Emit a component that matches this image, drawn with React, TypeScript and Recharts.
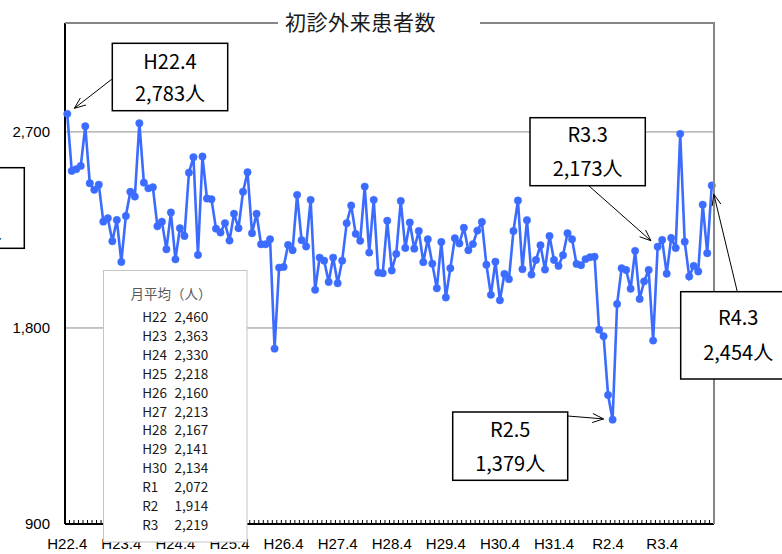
import React from 'react';
import { LineChart, Line, XAxis, YAxis, CartesianGrid } from 'recharts';

const W = 782;
const H = 554;
const PLOT = { left: 65, top: 23, right: 714, bottom: 524 };
const Y_DOMAIN: [number, number] = [900, 3200];

const chartTitle = '初診外来患者数';
const yearTickLabels = ['H22.4', 'H23.4', 'H24.4', 'H25.4', 'H26.4', 'H27.4', 'H28.4', 'H29.4', 'H30.4', 'H31.4', 'R2.4', 'R3.4'];
const yTicks = [900, 1800, 2700];

// monthly first-visit outpatients, H22.4 .. R4.3
const monthlyPatients = [
  2783, 2521, 2529, 2544, 2726, 2464, 2434, 2458, 2288, 2304, 2198, 2296,
  2103, 2314, 2425, 2403, 2740, 2467, 2441, 2446, 2267, 2288, 2161, 2330,
  2115, 2258, 2222, 2513, 2584, 2135, 2587, 2394, 2391, 2256, 2238, 2281,
  2201, 2324, 2258, 2425, 2515, 2235, 2324, 2184, 2184, 2207, 1705, 2077,
  2080, 2181, 2157, 2411, 2203, 2174, 2388, 1975, 2123, 2109, 2011, 2123,
  2005, 2109, 2281, 2362, 2232, 2200, 2449, 2146, 2388, 2054, 2051, 2292,
  2064, 2140, 2383, 2167, 2284, 2164, 2245, 2102, 2207, 2095, 1982, 2195,
  1940, 2074, 2212, 2188, 2260, 2157, 2185, 2247, 2287, 2090, 1952, 2104,
  1927, 2048, 2024, 2245, 2385, 2070, 2295, 2045, 2112, 2180, 2068, 2222,
  2112, 2085, 2134, 2235, 2207, 2094, 2088, 2116, 2125, 2127, 1792, 1762,
  1492, 1379, 1910, 2074, 2066, 1980, 2154, 1933, 2014, 2066, 1742, 2173,
  2204, 2049, 2213, 2167, 2691, 2196, 2036, 2085, 2059, 2366, 2143, 2454,
];

const legendTitle = '月平均（人）';
const fiscalYears = ['H22', 'H23', 'H24', 'H25', 'H26', 'H27', 'H28', 'H29', 'H30', 'R1', 'R2', 'R3'];
const monthlyAverages = [2460, 2363, 2330, 2218, 2160, 2213, 2167, 2141, 2134, 2072, 1914, 2219];

const annotationPeriods = ['H22.4', 'H23.8', 'R3.3', 'R2.5', 'R4.3'];
const annotationIndices = [0, 16, 131, 121, 143];

// layout of the callout boxes (position only)
const annotationLayout = [
  { x: 112.3, y: 43.3, w: 115.4, h: 67.4, l1: 16.7, l2: 48.7, arrow: [111.7, 79.3] },
  { x: -91, y: 167.7, w: 115.3, h: 80.6, l1: 29, l2: 62.5, arrow: null },
  { x: 530, y: 117.7, w: 115.3, h: 68, l1: 15.5, l2: 49.3, arrow: [588.7, 185.7] },
  { x: 452.7, y: 412, w: 115, h: 68.3, l1: 16.7, l2: 50, arrow: [567.7, 416] },
  { x: 680.7, y: 291.7, w: 115, h: 87.3, l1: 25, l2: 59.3, arrow: [737.3, 291.7] },
];

const data = monthlyPatients.map((value, idx) => ({ idx, value }));
// category boundaries (tick marks between months)
const boundaryTicks = Array.from({ length: monthlyPatients.length + 1 }, (_, i) => i - 0.5);
const STEP = (PLOT.right - PLOT.left) / monthlyPatients.length;

const xOf = (i: number) => PLOT.left + (i + 0.5) * STEP;
const yOf = (v: number) =>
  PLOT.top + ((Y_DOMAIN[1] - v) / (Y_DOMAIN[1] - Y_DOMAIN[0])) * (PLOT.bottom - PLOT.top);

const fmt = (v: number) => v.toLocaleString('en-US');

const BLUE = '#3b6cff';
const JP = '"Noto Sans CJK JP", "Noto Sans", sans-serif';
const LAT = '"Liberation Sans", Arial, sans-serif';

function Arrow({ sx, sy, px, py }: { sx: number; sy: number; px: number; py: number }) {
  const dx = px - sx;
  const dy = py - sy;
  const len = Math.hypot(dx, dy);
  const ux = dx / len;
  const uy = dy / len;
  const tx = px - ux * 9;
  const ty = py - uy * 9;
  const a = (22 * Math.PI) / 180;
  const L = 12;
  const c = Math.cos(a);
  const s = Math.sin(a);
  const w1x = tx - L * (ux * c - uy * s);
  const w1y = ty - L * (ux * s + uy * c);
  const w2x = tx - L * (ux * c + uy * s);
  const w2y = ty - L * (-ux * s + uy * c);
  return (
    <g stroke="#000" strokeWidth={1} fill="none">
      <line x1={sx} y1={sy} x2={tx} y2={ty} />
      <polyline points={`${w1x},${w1y} ${tx},${ty} ${w2x},${w2y}`} />
    </g>
  );
}

function XTick(props: any) {
  const { x, y, payload } = props;
  const v = payload?.value as number;
  const k = (v + 0.5) / 12;
  const label = Number.isInteger(k) ? yearTickLabels[k] : undefined;
  if (!label) return <g />;
  return (
    <text
      x={x + STEP / 2}
      y={y}
      dy="0.71em"
      textAnchor="middle"
      fill="#000"
      fontSize={15}
      fontFamily={LAT}
    >
      {label}
    </text>
  );
}

export default function App() {
  return (
    <div style={{ position: 'absolute', left: 0, top: 0, width: W, height: H, background: '#fff', overflow: 'hidden' }}>
      <LineChart
        width={W}
        height={H}
        data={data}
        margin={{ top: PLOT.top, right: W - PLOT.right, bottom: 0, left: 0 }}
      >
        <CartesianGrid vertical={false} stroke="#8c8c8c" strokeWidth={1} />
        <XAxis
          dataKey="idx"
          type="number"
          domain={[-0.5, monthlyPatients.length - 0.5]}
          ticks={boundaryTicks}
          interval={0}
          tick={XTick}
          tickSize={-4}
          tickMargin={18}
          tickLine={{ stroke: '#000', strokeWidth: 1 }}
          axisLine={{ stroke: '#000', strokeWidth: 2 }}
          height={H - PLOT.bottom}
        />
        <YAxis
          type="number"
          domain={Y_DOMAIN}
          ticks={yTicks}
          interval={0}
          width={PLOT.left}
          tickSize={0}
          tickMargin={15}
          tickLine={false}
          axisLine={{ stroke: '#000', strokeWidth: 2 }}
          tickFormatter={(v: number) => fmt(v)}
          tick={{ fill: '#000', fontSize: 15, fontFamily: LAT }}
        />
        <Line
          dataKey="value"
          stroke={BLUE}
          strokeWidth={2.6}
          dot={{ r: 3.7, fill: BLUE, stroke: BLUE, strokeWidth: 0.5 }}
          activeDot={false}
          isAnimationActive={false}
        />
      </LineChart>

      <svg
        width={W}
        height={H}
        style={{ position: 'absolute', left: 0, top: 0, pointerEvents: 'none' }}
      >
        {/* plot frame (top and right) */}
        <line x1={PLOT.left} y1={PLOT.top} x2={PLOT.right} y2={PLOT.top} stroke="#868686" strokeWidth={2} />
        <line x1={PLOT.right} y1={PLOT.top - 1} x2={PLOT.right} y2={PLOT.bottom} stroke="#868686" strokeWidth={2} />

        {/* title */}
        <rect x={278} y={10} width={202} height={24} fill="#fff" />
        <text
          x={360.5}
          y={21}
          textAnchor="middle"
          dominantBaseline="central"
          fontSize={21}
          letterSpacing={0.6}
          fontFamily={JP}
          fill="#1a1a1a"
        >
          {chartTitle}
        </text>

        {/* monthly average box */}
        <rect x={103.5} y={270.5} width={143.5} height={271.5} fill="#fff" stroke="#c4c4c4" strokeWidth={1} />
        <text x={171} y={293} textAnchor="middle" dominantBaseline="central" fontSize={13.5} fontFamily={JP} fill="#595959">
          {legendTitle}
        </text>
        {fiscalYears.map((fy, i) => (
          <g key={fy} fontSize={13.5} fontFamily={JP} fill="#1a1a1a">
            <text x={142.3} y={316.3 + i * 18.85} dominantBaseline="central" textAnchor="start">
              {fy}
            </text>
            <text x={208.3} y={316.3 + i * 18.85} dominantBaseline="central" textAnchor="end">
              {fmt(monthlyAverages[i])}
            </text>
          </g>
        ))}

        {/* callouts */}
        {annotationLayout.map((b, k) => {
          const idx = annotationIndices[k];
          const v = monthlyPatients[idx];
          return (
            <g key={annotationPeriods[k]}>
              {b.arrow && <Arrow sx={b.arrow[0]} sy={b.arrow[1]} px={xOf(idx)} py={yOf(v)} />}
              <rect x={b.x} y={b.y} width={b.w} height={b.h} fill="#fff" stroke="#000" strokeWidth={1.5} />
              <text
                x={b.x + b.w / 2}
                y={b.y + b.l1}
                textAnchor="middle"
                dominantBaseline="central"
                fontSize={20}
                fontFamily={JP}
                fill="#000"
              >
                {annotationPeriods[k]}
              </text>
              <text
                x={b.x + b.w / 2}
                y={b.y + b.l2}
                textAnchor="middle"
                dominantBaseline="central"
                fontSize={20}
                fontFamily={JP}
                fill="#000"
              >
                {`${fmt(v)}人`}
              </text>
            </g>
          );
        })}
      </svg>
    </div>
  );
}
